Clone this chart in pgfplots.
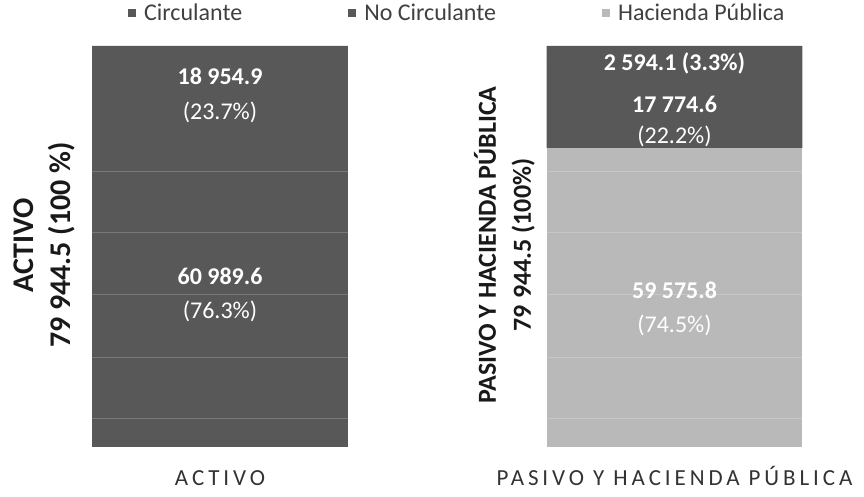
\documentclass[border=0pt]{standalone}
\usepackage{fontspec}
\setmainfont{Carlito}
\usepackage{pgfplots}
\pgfplotsset{compat=1.18}
\definecolor{darkbar}{RGB}{88,88,88}
\definecolor{lightbar}{RGB}{185,185,185}
\definecolor{txtgray}{RGB}{64,64,64}
\begin{document}
\begin{tikzpicture}
\begin{axis}[
  at={(0pt,0pt)}, anchor=south west,
  scale only axis, width=727.2pt, height=401pt,
  xmin=-0.3, xmax=1.3, ymin=0, ymax=79944.5,
  ybar stacked, bar width=0.563,
  axis line style={draw=none},
  tick style={draw=none},
  scaled y ticks=false,
  ytick={5582,17942,30303,42663,54824},
  yticklabels={},
  ymajorgrids,
  grid style={white, opacity=0.2, line width=1pt},
  axis on top,
  xtick={0,1},
  xticklabels={ACTIVO, PASIVO Y HACIENDA PÚBLICA},
  xticklabel style={font=\fontsize{23}{28}\selectfont\addfontfeature{LetterSpace=17}, text=black!80, anchor=base, yshift=-38pt},
  legend columns=-1,
  reverse legend,
  legend image code/.code={\fill[#1] (0pt,-4pt) rectangle (8pt,4pt);},
  legend style={at={(0.5,1)}, anchor=south, yshift=20pt, xshift=10pt, draw=none, fill=none,
    font=\fontsize{24}{28}\selectfont, text=txtgray,
    /tikz/every odd column/.append style={column sep=6pt},
    /tikz/every even column/.append style={column sep=104pt}},
]
\addplot[fill=lightbar, draw=none] coordinates {(0,0) (1,59575.8)};
\addlegendentry{Hacienda Pública}
\addplot[fill=darkbar, draw=none] coordinates {(0,60989.6) (1,17774.6)};
\addlegendentry{No Circulante}
\addplot[fill=darkbar, draw=none] coordinates {(0,18954.9) (1,2594.1)};
\addlegendentry{Circulante}

\coordinate (la) at (axis cs:0,70175);
\coordinate (lb) at (axis cs:0,30303);
\coordinate (ra) at (axis cs:1,76555);
\coordinate (rb) at (axis cs:1,64992);
\coordinate (rc) at (axis cs:1,27512);
\end{axis}
\node[white, align=center, font=\fontsize{24}{35}\selectfont] at (la) {\textbf{18 954.9}\\(23.7\%)};
\node[white, align=center, font=\fontsize{24}{34}\selectfont] at (lb) {\textbf{60 989.6}\\(76.3\%)};
\node[white, align=center, font=\fontsize{24}{31}\selectfont] at (ra) {\textbf{2 594.1 (3.3\%)}};
\node[white, align=center, font=\fontsize{24}{31}\selectfont] at (rb) {\textbf{17 774.6}\\(22.2\%)};
\node[white, align=center, font=\fontsize{24}{34}\selectfont] at (rc) {\textbf{59 575.8}\\(74.5\%)};
\node[rotate=90, align=center, font=\fontsize{30}{37}\selectfont\bfseries, text=black!90] at (-39.15pt,202pt) {ACTIVO\\79 944.5 (100 \%)};
\node[rotate=90, align=center, font=\fontsize{26}{35}\selectfont\bfseries, text=black!90] at (420.85pt,202pt) {PASIVO Y HACIENDA PÚBLICA\\79 944.5 (100\%)};
\pgfresetboundingbox
\path (-83.65pt,-50pt) rectangle (780.35pt,447pt);
\end{tikzpicture}
\end{document}
